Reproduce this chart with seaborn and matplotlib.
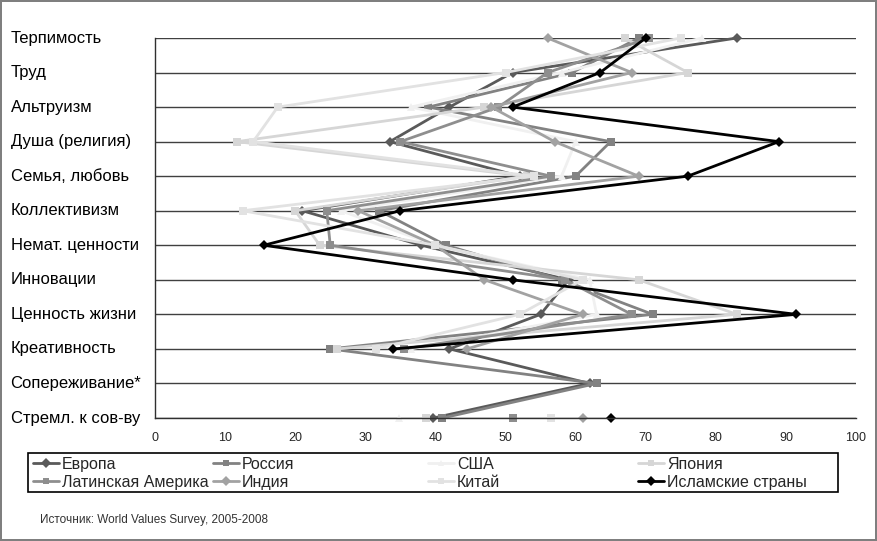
import numpy as np
import pandas as pd
import matplotlib
matplotlib.use("Agg")
import matplotlib.pyplot as plt
from matplotlib.lines import Line2D
from matplotlib.patches import Rectangle
import seaborn as sns

# Values (World Values Survey, 2005-2008)
categories = ['Терпимость', 'Труд', 'Альтруизм', 'Душа (религия)', 'Семья, любовь',
              'Коллективизм', 'Немат. ценности', 'Инновации', 'Ценность жизни',
              'Креативность', 'Сопереживание*', 'Стремл. к сов-ву']

nan = np.nan
europe = [83, 51, 42, 33.5, 52, 21, 38, 59, 55, 42, 62, 39.7]
russia = [69, 59.5, 39, 65, 60, 32, 41.5, 58, 71, 25, 63, 41]
usa = [78, 58, 36.5, 60, 58, 26.5, 40, 62, 63, 36.5, nan, 34.8]
japan = [67, 76, 47, 11.7, 53, 20, 23.5, 69, 83, 26, nan, 38.6]
latam = [70.5, 56, 49, 35, 56.5, 24.5, 25, 58.5, 68, 35.5, nan, 51]
india = [56, 68, 48, 57, 69, 29, 40, 47, 61, 44.5, nan, 61]
china = [75, 50, 17.5, 14, 54, 12.5, 40, 61, 52, 31.5, nan, 56.5]
islam = [70, 63.5, 51, 89, 76, 35, 15.5, 51, 91.5, 34, nan, 65]

series_names = ['Европа', 'Россия', 'США', 'Япония', 'Латинская Америка',
                'Индия', 'Китай', 'Исламские страны']
series_values = [europe, russia, usa, japan, latam, india, china, islam]

# styles per series
styles = {
    'Европа': ('#5a5a5a', 'D'),
    'Россия': ('#828282', 's'),
    'США': ('#f0f0f0', '^'),
    'Япония': ('#d6d6d6', 's'),
    'Латинская Америка': ('#8e8e8e', 's'),
    'Индия': ('#a2a2a2', 'D'),
    'Китай': ('#e2e2e2', 's'),
    'Исламские страны': ('#000000', 'D'),
}

rows = []
for name, vals in zip(series_names, series_values):
    seg = 0
    for i, v in enumerate(vals):
        if np.isnan(v):
            seg += 1
            continue
        rows.append({'region': name, 'pos': i, 'value': v, 'seg': seg})
df = pd.DataFrame(rows)

sns.set_style("white")
plt.rcParams['font.family'] = ['Liberation Sans', 'DejaVu Sans']

W, H = 877, 541
fig = plt.figure(figsize=(W / 100, H / 100), dpi=100)
ax = fig.add_axes([155 / W, 1 - 418 / H, (856 - 155) / W, (418 - 38) / H])

for name in series_names:
    color, marker = styles[name]
    sub = df[df['region'] == name]
    sns.lineplot(data=sub, x='value', y='pos', units='seg', estimator=None,
                 sort=False, orient='y', color=color, marker=marker,
                 markersize=6 if marker != 'D' else 5, markeredgecolor=color,
                 markeredgewidth=0, linewidth=2, legend=False, clip_on=False, ax=ax)

ax.set_xlim(0, 100)
ax.set_ylim(len(categories) - 1, 0)
ax.set_xticks(range(0, 101, 10))
ax.set_yticks(range(len(categories)))
ax.set_yticklabels(categories, fontsize=12)
for lab in ax.get_yticklabels():
    lab.set_horizontalalignment('left')
    lab.set_verticalalignment('center')
ax.tick_params(axis='y', direction='out', length=4, width=1, pad=100, colors='black')
ax.tick_params(axis='x', direction='out', length=4, width=1, pad=6, labelsize=9)
ax.set_xlabel('')
ax.set_ylabel('')
ax.yaxis.grid(True, color='#404040', linewidth=1)
ax.xaxis.grid(False)
ax.set_axisbelow(True)
for side in ['top', 'right']:
    ax.spines[side].set_visible(False)
for side in ['left', 'bottom']:
    ax.spines[side].set_color('#303030')
    ax.spines[side].set_linewidth(1)

# legend: four equal-width columns, two rows, in a single box (Excel style)
fig.patches.append(Rectangle((28 / W, 1 - 492 / H), (838 - 28) / W, (492 - 453) / H,
                             transform=fig.transFigure, fill=False, edgecolor='black',
                             linewidth=1.2))
col_x = [33, 213, 428, 638]
row_y = [463, 481]
for k, name in enumerate(series_names):
    color, marker = styles[name]
    x0 = col_x[k % 4]
    y0 = 1 - row_y[k // 4] / H
    fig.add_artist(Line2D([x0 / W, (x0 + 26) / W], [y0, y0], transform=fig.transFigure,
                          color=color, linewidth=2))
    fig.add_artist(Line2D([(x0 + 13) / W], [y0], transform=fig.transFigure,
                          color=color, marker=marker, markersize=5,
                          markeredgecolor=color, markeredgewidth=0, linestyle='none'))
    fig.text((x0 + 29) / W, y0, name, fontsize=11.5, va='center_baseline', ha='left')

fig.text(40 / W, 1 - 520 / H, 'Источник: World Values Survey, 2005-2008',
         fontsize=8.5, color='#333333', va='center', ha='left')

fig.patch.set_edgecolor('#7f7f7f')
fig.patch.set_linewidth(1.5)

fig.savefig('out.png', dpi=100)
